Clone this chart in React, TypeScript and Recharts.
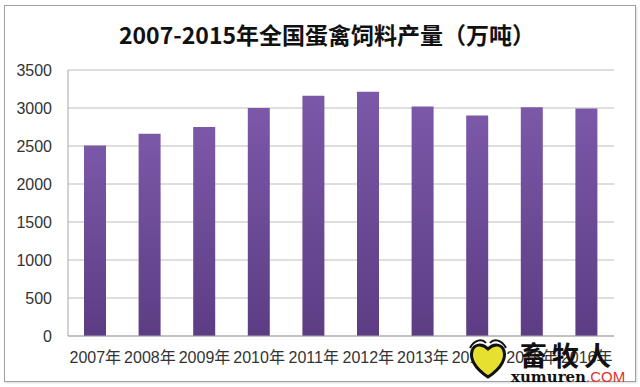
import React from "react";
import { BarChart, Bar, XAxis, YAxis, CartesianGrid } from "recharts";

const years = ["2007年", "2008年", "2009年", "2010年", "2011年", "2012年", "2013年", "2014年", "2015年", "2016年"];
const output = [2505, 2660, 2750, 3000, 3160, 3215, 3020, 2900, 3010, 2995];
const yTicks = [0, 500, 1000, 1500, 2000, 2500, 3000, 3500];

const data = years.map((year, i) => ({ year, value: output[i] }));

const labelFont = "Liberation Sans, 'Noto Sans CJK SC', sans-serif";

const App = () => {
  return (
    <div style={{ position: "absolute", left: 0, top: 0, width: 640, height: 387, background: "#fff" }}>
      {/* chart frame */}
      <div
        style={{
          position: "absolute",
          left: 4,
          top: 5,
          width: 630,
          height: 375,
          border: "1px solid #a0a0a0",
          boxShadow: "1px 1px 2px rgba(0,0,0,0.15)",
        }}
      />
      <div
        style={{
          position: "absolute",
          left: 10,
          top: 19,
          width: 634,
          textAlign: "center",
          fontFamily: "'Noto Sans CJK SC', sans-serif",
          fontWeight: 700,
          fontSize: 23,
          color: "#111",
          lineHeight: "30px",
        }}
      >
        2007-2015年全国蛋禽饲料产量（万吨）
      </div>
      <div style={{ position: "absolute", left: 0, top: 0 }}>
        <BarChart width={640} height={387} data={data} margin={{ top: 70, right: 26, bottom: 0, left: 8 }} barSize={22}>
          <defs>
            <linearGradient id="barFill" x1="0" y1="0" x2="0" y2="1">
              <stop offset="0%" stopColor="#7c58a8" />
              <stop offset="100%" stopColor="#5c3d84" />
            </linearGradient>
          </defs>
          <CartesianGrid vertical={false} stroke="#bdbdbd" />
          <XAxis
            dataKey="year"
            interval={0}
            tickLine={false}
            axisLine={{ stroke: "#a6a6a6" }}
            tick={{ fontSize: 16, fill: "#333", fontFamily: labelFont }}
            tickMargin={10}
            height={51}
          />
          <YAxis
            domain={[0, 3500]}
            ticks={yTicks}
            width={60}
            tickLine={false}
            tickSize={0}
            tickMargin={16}
            axisLine={{ stroke: "#a6a6a6" }}
            tick={{ fontSize: 16, fill: "#333", fontFamily: labelFont }}
          />
          <Bar dataKey="value" fill="url(#barFill)" isAnimationActive={false} />
        </BarChart>
      </div>
      {/* watermark */}
      <svg style={{ position: "absolute", left: 0, top: 0 }} width={640} height={387}>
        <path
          d="M488 377 C474 368 470 358 472 351 C474 344 482 343 488 349 C494 343 502 344 504 351 C506 358 502 368 488 377 Z"
          fill="#e6e030"
          stroke="#111"
          strokeWidth={3}
        />
        <path d="M470 348 C474 340 482 338 486 343" fill="none" stroke="#111" strokeWidth={2} />
        <path d="M506 348 C502 340 494 338 490 343" fill="none" stroke="#111" strokeWidth={2} />
        <text x={520} y={366} fontSize={27} fontWeight={700} fill="#111" fontFamily="'Noto Sans CJK SC', sans-serif" letterSpacing={5}>
          畜牧人
        </text>
        <text x={511} y={382} fontSize={15} fontWeight={700} fill="#111" fontFamily="'DejaVu Serif', serif">
          xumuren
          <tspan fill="#d9342b" fontFamily="Liberation Sans, sans-serif" fontWeight={400}>.COM</tspan>
        </text>
      </svg>
    </div>
  );
};

export default App;
